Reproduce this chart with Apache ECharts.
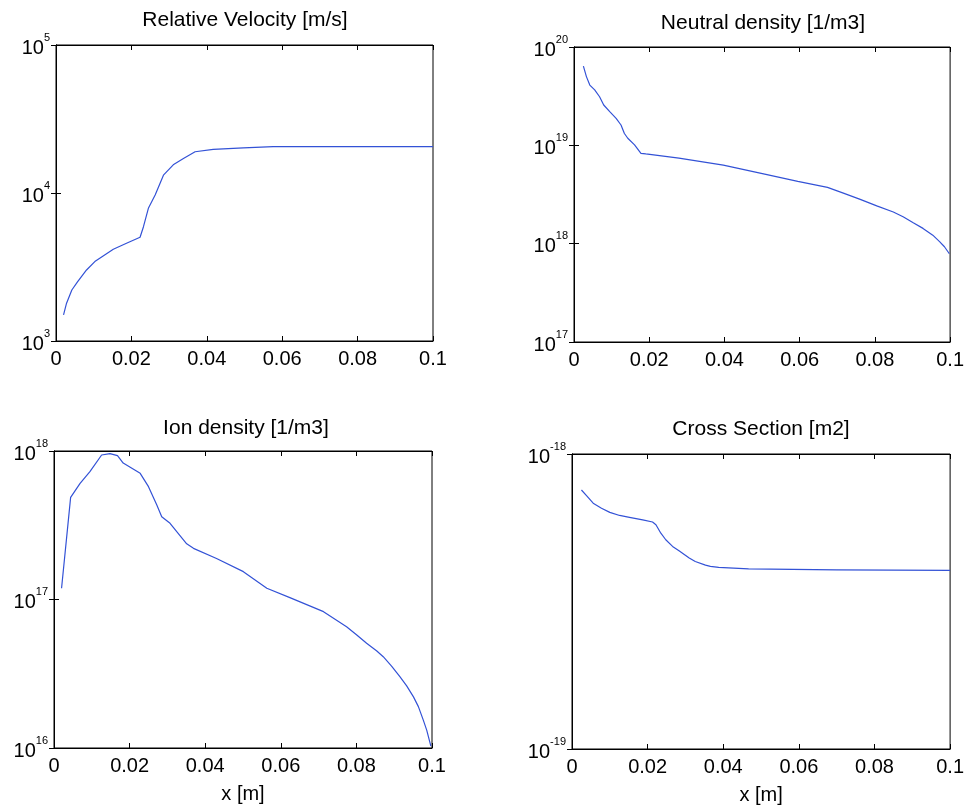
<!DOCTYPE html>
<html>
<head>
<meta charset="utf-8">
<script src="https://cdn.jsdelivr.net/npm/echarts/dist/echarts.min.js"></script>
<style>
html,body{margin:0;padding:0;background:#fff;}
#chart{width:967px;height:806px;}
</style>
</head>
<body>
<div id="chart"></div>
<script>
// ---- Data ----
const titles = ['Relative Velocity [m/s]', 'Neutral density [1/m3]', 'Ion density [1/m3]', 'Cross Section [m2]'];
const xAxisName = 'x [m]';

const velX = [0.002, 0.0028, 0.0042, 0.0057, 0.0081, 0.0103, 0.0152, 0.0187, 0.0223, 0.0232, 0.0245, 0.0263, 0.0285, 0.0311, 0.0338, 0.0369, 0.0417, 0.0497, 0.0576, 0.08, 0.1];
const velY = [1500, 1800, 2210, 2510, 3020, 3440, 4170, 4580, 5020, 5920, 7880, 9680, 13200, 15500, 17100, 19000, 19700, 20200, 20600, 20600, 20600];

const neutX = [0.0025, 0.0033, 0.0042, 0.0055, 0.0068, 0.0079, 0.0095, 0.0112, 0.0125, 0.0134, 0.0143, 0.0161, 0.0178, 0.0191, 0.0279, 0.0397, 0.0507, 0.0595, 0.0674, 0.0718, 0.0761, 0.0805, 0.0849, 0.0875, 0.0902, 0.0928, 0.0954, 0.0972, 0.0985, 0.0998];
const neutY = [6.4e19, 5.0e19, 4.1e19, 3.66e19, 3.12e19, 2.57e19, 2.2e19, 1.88e19, 1.61e19, 1.32e19, 1.18e19, 1.01e19, 8.3e18, 8.17e18, 7.4e18, 6.3e18, 5.1e18, 4.3e18, 3.74e18, 3.25e18, 2.82e18, 2.42e18, 2.1e18, 1.88e18, 1.63e18, 1.43e18, 1.22e18, 1.05e18, 9.3e17, 7.9e17];

const ionX = [0.002, 0.0044, 0.0069, 0.0095, 0.0126, 0.0148, 0.0168, 0.0183, 0.0228, 0.025, 0.0272, 0.0285, 0.0307, 0.0351, 0.0369, 0.043, 0.0501, 0.0563, 0.0624, 0.0713, 0.0774, 0.0801, 0.0827, 0.0854, 0.0871, 0.0893, 0.0915, 0.0933, 0.0951, 0.0964, 0.0977, 0.0986, 0.0997];
const ionY = [1.19e17, 4.87e17, 6.06e17, 7.26e17, 9.4e17, 9.6e17, 9.3e17, 8.3e17, 7.07e17, 5.75e17, 4.33e17, 3.61e17, 3.26e17, 2.37e17, 2.21e17, 1.89e17, 1.54e17, 1.19e17, 1.03e17, 8.28e16, 6.56e16, 5.77e16, 5.07e16, 4.5e16, 4.12e16, 3.56e16, 3.02e16, 2.62e16, 2.21e16, 1.9e16, 1.54e16, 1.32e16, 1.03e16];

const csX = [0.0025, 0.0039, 0.0056, 0.0078, 0.01, 0.0126, 0.0152, 0.0187, 0.0213, 0.0222, 0.0235, 0.0248, 0.0266, 0.0283, 0.031, 0.0326, 0.0353, 0.0366, 0.0388, 0.0467, 0.07, 0.1];
const csY = [7.55e-19, 7.21e-19, 6.81e-19, 6.55e-19, 6.34e-19, 6.19e-19, 6.1e-19, 5.98e-19, 5.88e-19, 5.76e-19, 5.39e-19, 5.12e-19, 4.86e-19, 4.7e-19, 4.44e-19, 4.32e-19, 4.2e-19, 4.16e-19, 4.13e-19, 4.08e-19, 4.05e-19, 4.03e-19];

const yRanges = [[1e3, 1e5], [1e17, 1e20], [1e16, 1e18], [1e-19, 1e-18]];
const seriesX = [velX, neutX, ionX, csX];
const seriesY = [velY, neutY, ionY, csY];

// ---- Layout ----
const FONT = '"Liberation Sans", Arial, sans-serif';
const grids = [
  {left: 56, top: 45, width: 377, height: 296},
  {left: 574, top: 47, width: 380, height: 295},
  {left: 54, top: 451, width: 378, height: 297},
  {left: 572, top: 454, width: 381, height: 296}
];
const titlePos = [[245, 10], [763, 13], [246, 418], [761, 419]];
const lineColor = '#3352d6';

function powLabel(v) {
  const e = Math.round(Math.log10(v));
  return '{b|10}{e|' + e + '}';
}

const option = {
  backgroundColor: '#fff',
  animation: false,
  title: titles.map((t, i) => ({
    text: t, left: titlePos[i][0], top: titlePos[i][1], textAlign: 'center', padding: 0,
    textStyle: {fontFamily: FONT, fontSize: 21, fontWeight: 'normal', color: '#000'}
  })),
  grid: grids.map(g => Object.assign({show: true, borderColor: '#000', borderWidth: 1, backgroundColor: '#fff'}, g)),
  xAxis: [],
  yAxis: [],
  series: []
};

for (let i = 0; i < 4; i++) {
  option.xAxis.push({
    type: 'value', gridIndex: i, min: 0, max: 0.1, interval: 0.02, position: 'bottom',
    name: i >= 2 ? xAxisName : '', nameLocation: 'middle', nameGap: 36,
    nameTextStyle: {fontFamily: FONT, fontSize: 20, color: '#000', verticalAlign: 'top'},
    axisLine: {show: true, lineStyle: {color: '#000', width: 1}},
    axisTick: {show: true, inside: true, length: 5, lineStyle: {color: '#000'}},
    axisLabel: {show: true, margin: 8, fontFamily: FONT, fontSize: 20, color: '#000',
      formatter: v => String(Math.round(v * 100) / 100)},
    splitLine: {show: false}
  });
  option.xAxis.push({
    type: 'value', gridIndex: i, min: 0, max: 0.1, interval: 0.02, position: 'top',
    axisLine: {show: true, lineStyle: {color: '#000', width: 1}},
    axisTick: {show: true, inside: true, length: 5, lineStyle: {color: '#000'}},
    axisLabel: {show: false}, splitLine: {show: false}
  });
  option.yAxis.push({
    type: 'log', logBase: 10, gridIndex: i, min: yRanges[i][0], max: yRanges[i][1], position: 'left',
    axisLine: {show: true, lineStyle: {color: '#000', width: 1}},
    axisTick: {show: true, inside: true, length: 5, lineStyle: {color: '#000'}},
    minorTick: {show: false},
    axisLabel: {show: true, margin: 6, formatter: powLabel,
      rich: {
        b: {fontFamily: FONT, fontSize: 20, color: '#000', lineHeight: 26, verticalAlign: 'bottom'},
        e: {fontFamily: FONT, fontSize: 11, color: '#000', lineHeight: 12, verticalAlign: 'top'}
      }},
    splitLine: {show: false}
  });
  option.yAxis.push({
    type: 'log', logBase: 10, gridIndex: i, min: yRanges[i][0], max: yRanges[i][1], position: 'right',
    axisLine: {show: true, lineStyle: {color: '#000', width: 1}},
    axisTick: {show: true, inside: true, length: 5, lineStyle: {color: '#000'}},
    axisLabel: {show: false}, splitLine: {show: false}
  });
  option.series.push({
    type: 'line', xAxisIndex: 2 * i, yAxisIndex: 2 * i,
    data: seriesX[i].map((x, k) => [x, seriesY[i][k]]),
    showSymbol: false, symbol: 'none', smooth: false,
    lineStyle: {color: lineColor, width: 1.2},
    clip: true
  });
}

const chart = echarts.init(document.getElementById('chart'), null, {renderer: 'canvas'});
chart.setOption(option);
</script>
</body>
</html>
